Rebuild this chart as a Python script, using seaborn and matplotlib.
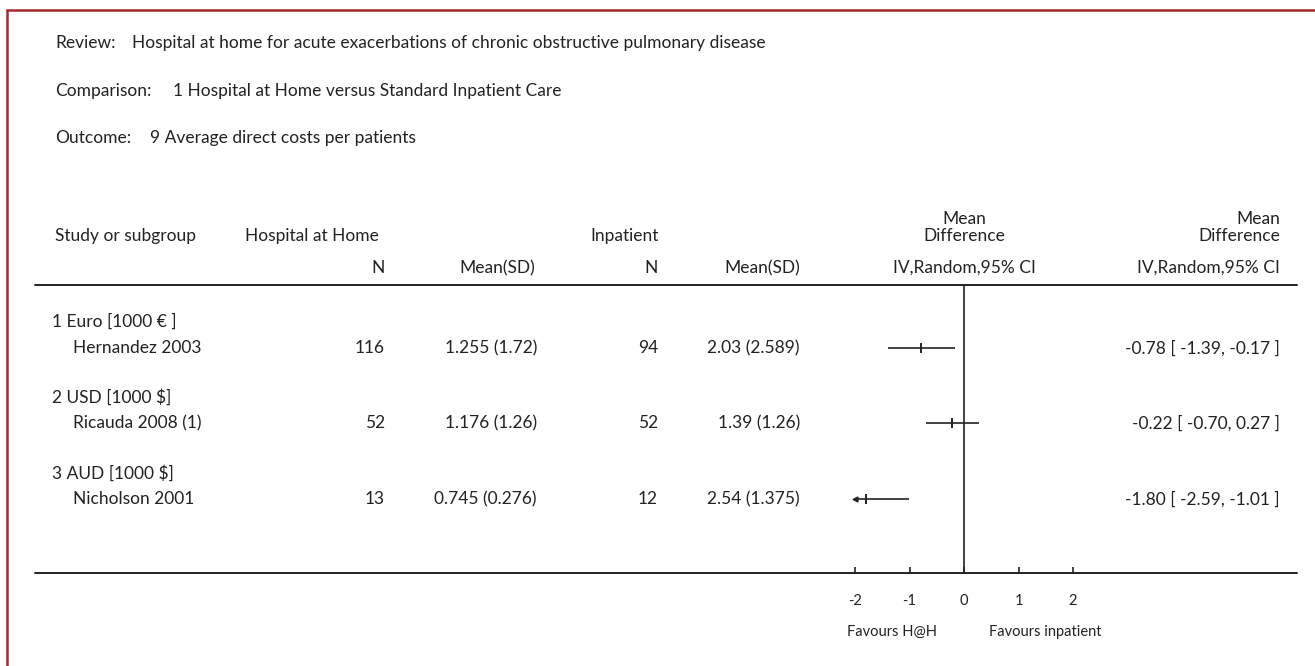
import matplotlib
matplotlib.use('Agg')
import matplotlib.pyplot as plt
import seaborn as sns
import pandas as pd

# --- data ---
subgroups = ["1 Euro [1000 € ]", "2 USD [1000 $]", "3 AUD [1000 $]"]
studies = ["Hernandez 2003", "Ricauda 2008 (1)", "Nicholson 2001"]
hah_n = [116, 52, 13]
hah_mean_sd = ["1.255 (1.72)", "1.176 (1.26)", "0.745 (0.276)"]
inp_n = [94, 52, 12]
inp_mean_sd = ["2.03 (2.589)", "1.39 (1.26)", "2.54 (1.375)"]
md = [-0.78, -0.22, -1.80]
ci_low = [-1.39, -0.70, -2.59]
ci_high = [-0.17, 0.27, -1.01]
x_ticks = [-2, -1, 0, 1, 2]

review = "Hospital at home for acute exacerbations of chronic obstructive pulmonary disease"
comparison = "1 Hospital at Home versus Standard Inpatient Care"
outcome = "9 Average direct costs per patients"

# --- style ---
sns.set_theme(style="white")
plt.rcParams['font.family'] = ['Lato', 'DejaVu Sans']
plt.rcParams['axes.unicode_minus'] = False
ink = '#222222'
border = '#a8282e'
fs = 12.5
fs_small = 10.5

W, H = 1315, 666
row_y = [348, 423, 499]          # study rows (pixels from top)
group_y = [y - 26 for y in row_y]
zero_px, unit_px = 964, 54.5     # forest plot scale
line_top, line_bot = 285, 573

fig = plt.figure(figsize=(W / 100, H / 100), dpi=100)
bg = fig.add_axes([0, 0, 1, 1])
bg.set_xlim(0, W)
bg.set_ylim(H, 0)
bg.axis('off')


def px_rect(x0, y0, x1, y1):
    return [x0 / W, 1 - y1 / H, (x1 - x0) / W, (y1 - y0) / H]


def txt(x, y, s, ha='left', size=fs):
    bg.text(x, y, s, ha=ha, va='center', fontsize=size, color=ink)


# red frame (cropped on right / bottom)
bg.plot([7, 7], [10, H], color=border, lw=1.8)
bg.plot([7, W], [10, 10], color=border, lw=1.8)

# title block
txt(55, 43, "Review:")
txt(132, 43, review)
txt(55, 91, "Comparison:")
txt(173, 91, comparison)
txt(55, 138, "Outcome:")
txt(150, 138, outcome)

# column headers
txt(55, 236, "Study or subgroup")
txt(245, 236, "Hospital at Home")
txt(590, 236, "Inpatient")
txt(zero_px, 219, "Mean", ha='center')
txt(zero_px, 236, "Difference", ha='center')
txt(1280, 219, "Mean", ha='right')
txt(1280, 236, "Difference", ha='right')
txt(385, 268, "N", ha='right')
txt(535, 268, "Mean(SD)", ha='right')
txt(658, 268, "N", ha='right')
txt(800, 268, "Mean(SD)", ha='right')
txt(zero_px, 268, "IV,Random,95% CI", ha='center')
txt(1280, 268, "IV,Random,95% CI", ha='right')

bg.plot([35, 1297], [line_top, line_top], color=ink, lw=1.4)
bg.plot([35, 1297], [line_bot, line_bot], color=ink, lw=1.4)

# table rows
for i in range(len(studies)):
    txt(52, group_y[i], subgroups[i])
    txt(73, row_y[i], studies[i])
    txt(385, row_y[i], str(hah_n[i]), ha='right')
    txt(537, row_y[i], hah_mean_sd[i], ha='right')
    txt(658, row_y[i], str(inp_n[i]), ha='right')
    txt(800, row_y[i], inp_mean_sd[i], ha='right')
    txt(1280, row_y[i],
        f"{md[i]:.2f} [ {ci_low[i]:.2f}, {ci_high[i]:.2f} ]", ha='right')

# forest plot
df = pd.DataFrame({'md': md, 'lo': ci_low, 'hi': ci_high, 'y': row_y})
lim = 3
fax = fig.add_axes(px_rect(zero_px - lim * unit_px, line_top,
                           zero_px + lim * unit_px, line_bot))
fax.set_xlim(-lim, lim)
fax.set_ylim(line_bot, line_top)
fax.patch.set_alpha(0)

lo_c = df['lo'].clip(x_ticks[0], x_ticks[-1])
hi_c = df['hi'].clip(x_ticks[0], x_ticks[-1])
fax.hlines(df['y'], lo_c, hi_c, color=ink, lw=1.2)
sns.scatterplot(data=df, x='md', y='y', marker='|', s=45, color=ink,
                linewidth=1.4, ax=fax, legend=False)
clipped = df[df['lo'] < x_ticks[0]]
fax.plot([x_ticks[0]] * len(clipped), clipped['y'], marker='<', ms=3.5,
         color=ink, lw=0)
fax.axvline(0, color=ink, lw=1.2)

fax.set_xticks(x_ticks)
fax.set_xticklabels([str(t) for t in x_ticks])
fax.tick_params(axis='x', direction='in', length=4, width=1.2, color=ink,
                pad=15, labelsize=fs_small, labelcolor=ink, bottom=True)
fax.tick_params(axis='y', left=False, labelleft=False)
fax.set_xlabel('')
fax.set_ylabel('')
for s in fax.spines.values():
    s.set_visible(False)

txt(892, 632, "Favours H@H", ha='center', size=fs_small)
txt(1045, 632, "Favours inpatient", ha='center', size=fs_small)

fig.savefig('out.png', dpi=100)
